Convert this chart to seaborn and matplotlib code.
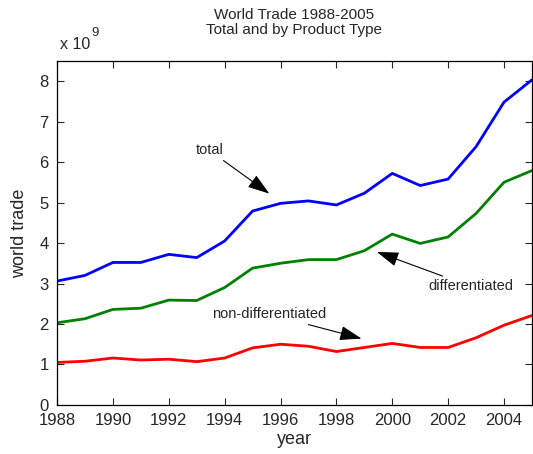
import matplotlib
matplotlib.use("Agg")
import matplotlib.pyplot as plt
import numpy as np
import pandas as pd
import seaborn as sns

# World trade by product type, in units of 1e9
years = list(range(1988, 2006))
total = [3.06, 3.20, 3.52, 3.52, 3.72, 3.64, 4.05, 4.79, 4.98, 5.04,
         4.94, 5.23, 5.72, 5.42, 5.58, 6.38, 7.48, 8.03]
differentiated = [2.03, 2.13, 2.36, 2.39, 2.59, 2.58, 2.90, 3.38, 3.50, 3.59,
                  3.59, 3.81, 4.22, 3.99, 4.15, 4.73, 5.50, 5.79]
non_differentiated = [1.05, 1.08, 1.16, 1.11, 1.13, 1.07, 1.16, 1.41, 1.50, 1.45,
                      1.32, 1.42, 1.52, 1.42, 1.42, 1.66, 1.97, 2.21]
series_names = ["total", "differentiated", "non-differentiated"]
series_colors = ["#0000ff", "#008000", "#ff0000"]
x_ticks = list(range(1988, 2005, 2))
y_ticks = list(range(0, 9))

df = pd.DataFrame({
    "year": years * 3,
    "trade": total + differentiated + non_differentiated,
    "series": np.repeat(series_names, len(years)),
})

sns.set_style("ticks")
plt.rcParams["font.family"] = ["Liberation Sans", "DejaVu Sans"]

fig = plt.figure(figsize=(5.33, 4.54), dpi=100)
ax = fig.add_axes([0.107, 0.108, 0.891, 0.758])

sns.lineplot(data=df, x="year", y="trade", hue="series",
             palette=dict(zip(series_names, series_colors)),
             linewidth=2.0, legend=False, ax=ax)

ax.set_xlim(1988, 2005)
ax.set_ylim(0, 8.5)
ax.set_xticks(x_ticks)
ax.set_yticks(y_ticks)
ax.tick_params(direction="in", top=True, right=True, length=5, width=0.8,
               labelsize=12, pad=6)
for s in ax.spines.values():
    s.set_visible(True)
    s.set_linewidth(0.9)
    s.set_color("black")

ax.set_xlabel("year", fontsize=13, labelpad=2)
ax.set_ylabel("world trade", fontsize=13, labelpad=8)
ax.set_title("World Trade 1988-2005\nTotal and by Product Type",
             fontsize=11, linespacing=1.1, pad=19)

# exponent label in the style of the axis multiplier
fig.text(0.112, 0.886, "x 10", fontsize=11.5, ha="left", va="bottom")
fig.text(0.171, 0.915, "9", fontsize=9.5, ha="left", va="bottom")

arrow = dict(arrowstyle="-|>,head_length=0.9,head_width=0.3", color="black",
             lw=0.8, mutation_scale=15, shrinkA=0, shrinkB=0)
ax.annotate("total", xy=(1995.6, 5.22), xytext=(1993.45, 6.29),
            fontsize=10.5, ha="center", va="center", arrowprops=arrow)
ax.annotate("differentiated", xy=(1999.45, 3.78), xytext=(2002.8, 2.93),
            fontsize=10.5, ha="center", va="center", arrowprops=arrow)
ax.annotate("non-differentiated", xy=(1998.9, 1.64), xytext=(1995.6, 2.24),
            fontsize=10.5, ha="center", va="center", arrowprops=arrow)

fig.savefig("out.png", dpi=100)
